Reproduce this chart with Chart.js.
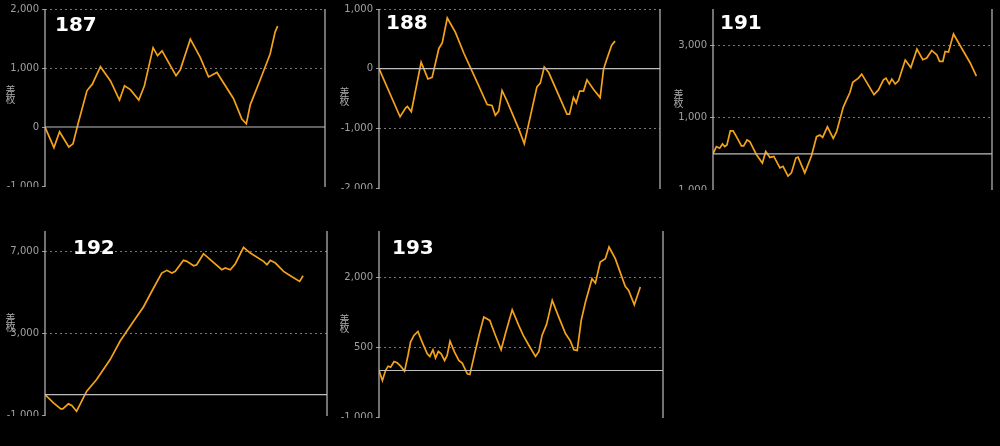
<!DOCTYPE html>
<html>
<head>
<meta charset="utf-8">
<script src="https://cdn.jsdelivr.net/npm/chart.js@4"></script>
<style>
  body { margin: 0; background: #000; width: 1000px; height: 446px; overflow: hidden; position: relative; font-family: "DejaVu Sans", sans-serif; }
  .panel { position: absolute; overflow: hidden; }
  .panel canvas { position: absolute; left: 0; top: 0; }
  .num { position: absolute; color: #fff; font: bold 20px "DejaVu Sans", sans-serif; }
  .ylab { position: absolute; color: #aaa; font: 10px "Noto Sans CJK JP", sans-serif; writing-mode: vertical-rl; letter-spacing: -1px; }
</style>
</head>
<body>
<script>
// 台番号
const machines = ['187', '188', '191', '192', '193'];

// 差枚データ (x: 0-100 の進行度, y: 差枚)
const x187 = [0, 3.2, 5.2, 8.5, 10, 11.8, 15, 16.9, 19.8, 23.4, 26.6, 28.4, 30.5, 33.5, 35.5, 38.6, 40.2, 41.8, 46.8, 48.3, 51.9, 55.4, 58.4, 61.4, 67.3, 70.3, 71.9, 73.3, 76.9, 80.4, 82.2, 83.1];
const y187 = [0, -350, -81, -339, -285, 54, 618, 726, 1022, 780, 457, 699, 634, 457, 699, 1344, 1210, 1290, 871, 968, 1489, 1183, 849, 925, 484, 134, 54, 376, 806, 1237, 1613, 1710];

const x188 = [0, 7.5, 9.5, 10.1, 11.5, 15, 17.4, 18.9, 21.3, 22.5, 24.3, 27.2, 30.2, 34.9, 38.5, 40.2, 41.4, 42.6, 43.8, 45.6, 49.7, 51.7, 56.2, 57.4, 58.8, 60.4, 66.9, 67.8, 69.2, 70.2, 71.4, 72.8, 74, 76.3, 78.7, 79.9, 81, 82.8, 84];
const y188 = [0, -806, -656, -634, -720, 108, -172, -145, 339, 430, 849, 608, 258, -226, -602, -618, -780, -710, -366, -548, -1005, -1258, -306, -242, 27, -65, -763, -763, -484, -575, -376, -376, -188, -344, -484, -11, 150, 392, 462];

const x191 = [0, 1.2, 2.4, 3.4, 4.2, 5.0, 6.2, 7.2, 8.4, 10.2, 11.0, 12.2, 13.2, 15.6, 17.7, 18.9, 20.4, 21.8, 24.0, 25.1, 26.9, 28.1, 29.7, 30.5, 32.9, 35.3, 37.1, 38.3, 39.3, 41.0, 43.1, 44.3, 46.7, 49.1, 50.1, 52.1, 53.3, 55.1, 57.7, 59.3, 61.1, 62.0, 63.2, 64.1, 65.3, 66.5, 68.9, 70.9, 73.1, 75.2, 76.6, 78.4, 80.2, 81.2, 82.4, 83.2, 84.4, 86.2, 89.8, 92.2, 94.4];
const y191 = [0, 200, 155, 273, 200, 245, 636, 636, 473, 218, 218, 382, 336, -27, -255, 64, -100, -73, -391, -345, -618, -527, -118, -91, -527, -55, 473, 518, 455, 745, 427, 609, 1291, 1700, 1973, 2091, 2200, 1973, 1636, 1764, 2045, 2091, 1927, 2064, 1927, 2018, 2591, 2382, 2891, 2600, 2645, 2855, 2736, 2555, 2555, 2827, 2809, 3309, 2827, 2509, 2145];

const x192 = [0, 3.0, 5.6, 6.3, 8.3, 9.5, 11.2, 14.8, 18.3, 23.1, 26.6, 31.4, 34.9, 38.5, 41.4, 43.2, 45.0, 46.2, 49.1, 50.3, 52.7, 53.8, 56.2, 58.6, 62.7, 63.9, 65.7, 67.5, 70.4, 72.8, 77.5, 78.7, 79.9, 81.7, 84.6, 87, 90.3, 91.5];
const y192 = [0, -407, -700, -700, -456, -537, -814, 163, 733, 1710, 2606, 3583, 4283, 5212, 5945, 6075, 5945, 6026, 6564, 6515, 6303, 6352, 6889, 6596, 6107, 6189, 6107, 6401, 7199, 6922, 6515, 6352, 6564, 6433, 6026, 5814, 5537, 5814];

const x193 = [0, 1.2, 2.3, 3.2, 4.1, 5.3, 6.4, 7.6, 9.0, 10.2, 11.1, 12.3, 13.7, 15.2, 17.0, 17.9, 19.0, 19.9, 20.9, 21.9, 23.1, 24.0, 25.0, 26.6, 28.1, 29.3, 31.1, 32.0, 33.4, 35.2, 36.9, 39.0, 41.0, 43.0, 44.5, 46.9, 49.2, 50.8, 52.8, 55.1, 56.3, 57.4, 59.0, 61.0, 63.3, 65.7, 67.4, 68.6, 69.8, 71.2, 72.7, 75.0, 76.2, 77.9, 79.7, 81.0, 83.2, 86.7, 87.9, 89.9, 92.0];
const y193 = [0, -215, 0, 93, 72, 194, 165, 93, -14, 323, 610, 754, 840, 610, 359, 302, 445, 266, 409, 359, 215, 323, 632, 395, 215, 158, -72, -86, 287, 754, 1149, 1077, 754, 445, 790, 1307, 969, 754, 538, 301, 409, 754, 991, 1508, 1149, 790, 632, 445, 431, 1077, 1472, 1974, 1880, 2333, 2405, 2656, 2405, 1809, 1723, 1414, 1795];

// 目盛り
const ticks187 = [-1000, 0, 1000, 2000];
const ticks188 = [-2000, -1000, 0, 1000];
const ticks191 = [-1000, 1000, 3000];
const ticks192 = [-1000, 3000, 7000];
const ticks193 = [-1000, 500, 2000];
const yMax = [2000, 1000, 4000, 8000, 3000];

const xs = [x187, x188, x191, x192, x193];
const ys = [y187, y188, y191, y192, y193];
const tickSets = [ticks187, ticks188, ticks191, ticks192, ticks193];

// 各グラフの描画領域 [left, top, right, bottom, clipBottom]
const boxes = [
  [45, 4, 325, 186, 187],
  [379, 5, 660, 188, 189],
  [713, 8, 992, 190, 190],
  [45, 230, 327, 415, 416],
  [379, 230, 663, 417, 418]
];
const numPos = [[55, 12], [386, 10], [720, 10], [73, 235], [392, 235]];

// 0ライン・左右の枠
const framePlugin = {
  id: 'frame',
  afterDatasetsDraw(chart) {
    const { ctx, chartArea } = chart;
    const y0 = chart.scales.y.getPixelForValue(0);
    ctx.save();
    ctx.strokeStyle = '#bdbdbd';
    ctx.lineWidth = 1.2;
    ctx.beginPath();
    ctx.moveTo(chartArea.left, y0);
    ctx.lineTo(chartArea.right, y0);
    ctx.moveTo(chartArea.right, chartArea.top);
    ctx.lineTo(chartArea.right, chartArea.bottom + 20);
    ctx.moveTo(chartArea.left, chartArea.top);
    ctx.lineTo(chartArea.left, chartArea.bottom + 20);
    ctx.stroke();
    ctx.restore();
  }
};

machines.forEach((m, i) => {
  const [L, T, R, B, clipB] = boxes[i];
  const cTop = i < 3 ? 0 : 222;
  const padTop = T - cTop;
  const w = (R - L) + 45 + 6;
  const h = clipB - cTop + 20;

  const panel = document.createElement('div');
  panel.className = 'panel';
  panel.style.left = (L - 45) + 'px';
  panel.style.top = cTop + 'px';
  panel.style.width = w + 'px';
  panel.style.height = (clipB - cTop) + 'px';
  const canvas = document.createElement('canvas');
  canvas.width = w;
  canvas.height = h;
  canvas.style.width = w + 'px';
  canvas.style.height = h + 'px';
  panel.appendChild(canvas);
  document.body.appendChild(panel);

  const num = document.createElement('div');
  num.className = 'num';
  num.textContent = m;
  num.style.left = numPos[i][0] + 'px';
  num.style.top = numPos[i][1] + 'px';
  document.body.appendChild(num);

  const lab = document.createElement('div');
  lab.className = 'ylab';
  lab.textContent = '差枚';
  lab.style.left = (L - 42) + 'px';
  lab.style.top = (T + (B - T) / 2 - 10) + 'px';
  document.body.appendChild(lab);

  const ticks = tickSets[i];
  new Chart(canvas, {
    type: 'line',
    data: {
      datasets: [{
        data: xs[i].map((x, k) => ({ x: x, y: ys[i][k] })),
        borderColor: '#f5a21b',
        borderWidth: 1.7,
        pointRadius: 0,
        tension: 0
      }]
    },
    options: {
      responsive: false,
      animation: false,
      layout: { padding: { top: padTop, bottom: h - (B - cTop), right: 6, left: 0 } },
      plugins: { legend: { display: false }, tooltip: { enabled: false } },
      scales: {
        x: { type: 'linear', min: 0, max: 100, display: false },
        y: {
          min: ticks[0],
          max: yMax[i],
          afterBuildTicks: (s) => { s.ticks = ticks.map(v => ({ value: v })); },
          afterFit: (s) => { s.width = 45; },
          ticks: {
            color: '#a0a0a0',
            font: { size: 10, family: 'DejaVu Sans' },
            padding: 3,
            callback: (v) => v.toLocaleString('en-US')
          },
          grid: {
            color: (c) => (c.tick && (c.tick.value === ticks[0] || c.tick.value === 0)) ? 'rgba(0,0,0,0)' : '#777',
            lineWidth: 1,
            drawTicks: true,
            tickLength: 3,
            tickColor: '#999'
          },
          border: { display: false, dash: [2, 3] }
        }
      }
    },
    plugins: [framePlugin]
  });
});
</script>
</body>
</html>
